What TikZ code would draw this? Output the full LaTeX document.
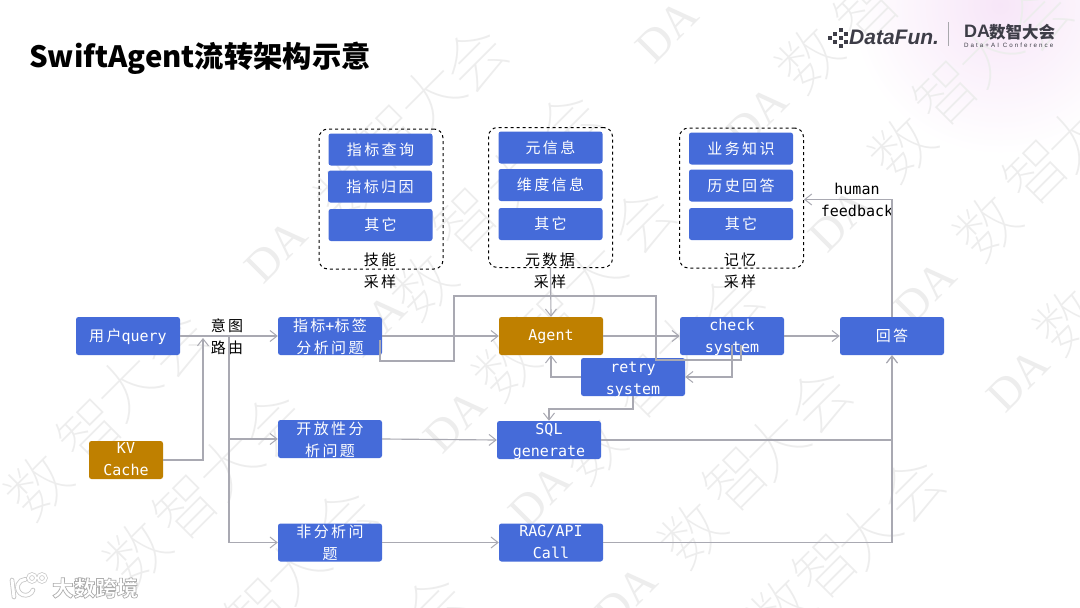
\documentclass[tikz,border=0pt]{standalone}
\usepackage{fontspec}
\setmainfont{Noto Sans CJK SC}
\newfontfamily\zhsp[LetterSpace=16]{Noto Sans CJK SC}
\newfontfamily\mono{DejaVu Sans Mono}
\newfontfamily\titlefont{Noto Sans CJK SC}
\newfontfamily\serifwm{Liberation Serif}
\newfontfamily\wmfont{Noto Sans CJK SC Thin}
\newfontfamily\logolat{Liberation Sans}
\newfontfamily\logosp[LetterSpace=33]{Liberation Sans}
\usetikzlibrary{arrows.meta}
\definecolor{boxblue}{HTML}{456BD9}
\definecolor{boxgold}{HTML}{BF8000}
\definecolor{connc}{HTML}{A9A9B2}
\definecolor{logoc}{HTML}{3D3D47}
\definecolor{wmc}{HTML}{EDEDED}
\definecolor{glow}{HTML}{F7E6F8}
\tikzset{
  box/.style={rounded corners=2.5pt,fill=boxblue,text=white,minimum width=104pt,minimum height=38pt,inner sep=0pt,align=center,font=\fontsize{15}{22}\selectfont},
  mini/.style={box,minimum height=32pt},
  goldbox/.style={box,fill=boxgold},
  group/.style={draw=black,dashed,line width=1pt,rounded corners=9pt,inner sep=0pt,minimum width=124pt,minimum height=140pt},
  label/.style={inner sep=0pt,align=center,text=black,font=\fontsize{15}{22}\selectfont},
  conn/.style={draw=connc,line width=1.15pt},
  arr/.style={conn,-{Straight Barb[length=7pt,width=11pt,line width=1pt]}},
  wm/.style={text=wmc,inner sep=0pt,rotate=45,font=\wmfont\fontsize{62}{62}\selectfont},
  wmda/.style={wm,font=\serifwm\fontsize{46}{46}\selectfont},
}
\newcommand{\zh}[2][2]{\raisebox{-#1pt}[11pt][4pt]{\zhsp #2}}
\newcommand{\mn}[2][2]{\raisebox{-#1pt}[11pt][4pt]{\mono #2}}
\begin{document}
\begin{tikzpicture}[x=1pt,y=-1pt]
\useasboundingbox (0,0) rectangle (1080,608);
\clip (0,0) rectangle (1080,608);
\fill[white] (0,0) rectangle (1080,608);
\shade[inner color=glow,outer color=white] (1000,5) circle (150);
% watermark
\foreach \x/\y/\c in {
 692/534/数,736/479/智,775/445/大,819/400/会,987/227/数,1036/172/智,1077/137/大,
 781/610/数,826/566/智,867/534/大,912/489/会,1067/321/数,
 258/610/智,296/569/大,344/520/会,506/367/数,550/323/智,592/276/大,643/220/会,809/59/数,867/10/智,
 38/486/数,90/431/智,127/386/大,176/344/会,348/189/数,389/137/智,431/96/大,475/59/会,
 137/553/数,186/507/智,229/465/大,274/424/会,423/286/数,465/220/智,516/176/大,568/124/会,
 434/607/会,592/450/数,643/386/智,685/341/大,731/305/会,902/148/数,946/93/智,988/52/大,1040/18/会}
  {\node[wm] (wm\x) at (\x,\y) {\c};}
\foreach \x/\y in {626/597,925/292,1018/380,455/421,757/117,276/251,375/325,667/31,540/496,840/220}
  {\node[wmda] (wd\x) at (\x,\y) {DA};}
% title
\node[anchor=west,inner sep=0pt,text=black,font=\titlefont\bfseries\fontsize{29.3}{32}\selectfont] (title) at (29,58.5) {SwiftAgent流转架构示意};
% logos
\foreach \x/\y [count=\i] in {830/38,835/34,835/42,841/30,841/38,841/46,846/34,846/42}
  {\fill[logoc] (\x-1.7,\y-1.7) rectangle (\x+1.7,\y+1.7);}
\node[anchor=west,inner sep=0pt,text=logoc,font=\logolat\bfseries\itshape\fontsize{21}{21}\selectfont] (dfun) at (849,37) {DataFun.};
\node[inner sep=0pt,minimum width=1pt,minimum height=24pt,fill=logoc!45] (sep) at (948,34) {};
\node[anchor=west,inner sep=0pt,text=logoc,font=\logolat\bfseries\fontsize{18}{18}\selectfont] (dalogo) at (964,31.5) {DA};
\node[anchor=west,inner sep=0pt,text=logoc,font=\bfseries\fontsize{16.5}{17}\selectfont] (dacn) at (989,32) {数智大会};
\node[anchor=west,inner sep=0pt,text=logoc,font=\logosp\fontsize{6.2}{7}\selectfont] (daen) at (964,45.5) {Data+AI Conference};
% bottom-left logo
\foreach \w/\cc in {4.6/gray!45,3/white}{
  \draw[\cc,line width=\w pt,line cap=round] (12,580) -- (14,597);
  \draw[\cc,line width=\w pt,line cap=round] (33,590) arc[start angle=20,end angle=270,radius=8];
}
\foreach \w/\cc in {3.4/gray!45,2/white}{
  \draw[\cc,line width=\w pt] (32,578) circle (4) (42,578) circle (4);
}
\node[anchor=west,inner sep=0pt,font=\bfseries\fontsize{21.5}{22}\selectfont] (bd) at (52,588)
  {\special{pdf:code q 2 Tr 0.7 w 0.68 0.68 0.68 RG 1 1 1 rg}大数跨境\special{pdf:code Q}};
% groups
\node[group] (g1) at (381,199) {};
\node[group] (g2) at (550.5,197.5) {};
\node[group] (g3) at (741.5,198) {};
\node[mini] (a1) at (380.5,149.5) {\zh{指标查询}};
\node[mini] (a2) at (380,186.5) {\zh{指标归因}};
\node[mini] (a3) at (380.5,225) {\zh{其它}};
\node[mini] (b1) at (550.5,147.5) {\zh{元信息}};
\node[mini] (b2) at (550.5,185) {\zh{维度信息}};
\node[mini] (b3) at (550.5,224) {\zh{其它}};
\node[mini] (c1) at (741,148.5) {\zh{业务知识}};
\node[mini] (c2) at (741,185.5) {\zh{历史回答}};
\node[mini] (c3) at (741,224) {\zh{其它}};
\node[label] (l1) at (380,270.5) {\zh[2.5]{技能}\\\zh[2.5]{采样}};
\node[label] (l2) at (550,270.5) {\zh[2.5]{元数据}\\\zh[2.5]{采样}};
\node[label] (l3) at (740,270.5) {\zh[2.5]{记忆}\\\zh[2.5]{采样}};
% main boxes
\node[box] (q) at (128,336) {\zh{用户}\mn[1.5]{query}};
\node[goldbox,minimum width=74pt] (kv) at (126,460) {\mn[1]{KV}\\\mn[1]{Cache}};
\node[box] (zb) at (330,336) {\zh[3]{指标}\mn[3]{+}\zh[3]{标签}\\\zh[3]{分析问题}};
\node[box] (kf) at (330,439) {\zh[3]{开放性分}\\\zh[3]{析问题}};
\node[box] (fe) at (330,542.5) {\zh[2.5]{非分析问}\\\zh[2.5]{题}};
\node[goldbox] (ag) at (551,336) {\mn[1]{Agent}};
\node[box] (sq) at (549,440) {\mn{SQL}\\\mn{generate}};
\node[box] (rg) at (551,542.5) {\mn[1]{RAG/API}\\\mn[1]{Call}};
\node[box] (re) at (633,377) {\mn[2.5]{retry}\\\mn[2.5]{system}};
\node[box] (ch) at (732,336) {\mn{check}\\\mn{system}};
\node[box] (an) at (892,336) {\zh{回答}};
\node[label] (yt) at (227,337) {\zh{意图}\\\zh{路由}};
\node[label] (hf) at (857,199.5) {\mn[2]{human}\\\mn[2]{feedback}};
% connector waypoints
\coordinate (kvin) at (203,338);
\coordinate (tr) at (229,336);
\coordinate (lp1) at (741,345);
\coordinate (lp2) at (656,360);
\coordinate (lp3) at (454,296);
\coordinate (lp4) at (380,361);
\coordinate (lp5) at (380,340);
\coordinate (cr1) at (732,345);
\coordinate (rs1) at (549,409);
% connectors
\draw[arr] (q.east) -- (zb.west);
\draw[arr] (kv.east) -| (kvin);
\draw[arr] (tr) |- (fe.west);
\draw[arr] (tr |- kf.west) -- (kf.west);
\draw[arr] (zb.east) -- (ag.west);
\draw[conn] (lp1) |- (lp2) |- (lp3) |- (lp4) -- (lp5);
\draw[arr] (cr1) |- (re.east);
\draw[arr] (g2.south) -- (ag.north);
\draw[arr] (re.west) -| (ag.south);
\draw[arr] (re.south) |- (rs1) -- (sq.north);
\draw[arr] (ag.east) -- (ch.west);
\draw[arr] (ch.east) -- (an.west);
\draw[arr] (an.north) |- (g3.east |- hf);
\draw[arr] (kf.east) -- (sq.west);
\draw[arr] (sq.east) -| (an.south);
\draw[arr] (fe.east) -- (rg.west);
\draw[arr] (rg.east) -| (an.south);
\end{tikzpicture}
\end{document}
